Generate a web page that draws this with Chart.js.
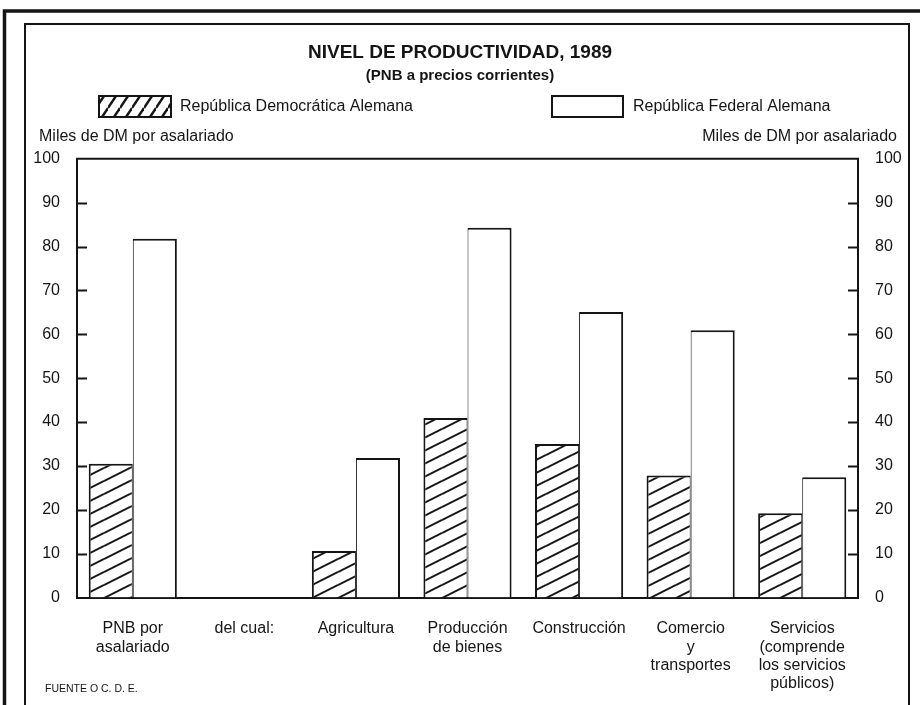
<!DOCTYPE html>
<html>
<head>
<meta charset="utf-8">
<title>Nivel de productividad, 1989</title>
<script src="https://cdn.jsdelivr.net/npm/chart.js@4.4.1/dist/chart.umd.min.js"></script>
<style>
  html, body { margin: 0; padding: 0; background: #fff; }
  canvas { display: block; }
</style>
</head>
<body>
<canvas id="productividad" width="920" height="705"></canvas>
<script>
// data (miles de DM por asalariado)
const categories = [
    ['PNB por', 'asalariado'],
    'del cual:',
    'Agricultura',
    ['Producción', 'de bienes'],
    'Construcción',
    ['Comercio', 'y', 'transportes'],
    ['Servicios', '(comprende', 'los servicios', 'públicos)']
];
const seriesNames = ['República Democrática Alemana', 'República Federal Alemana'];
const rdaValues = [30.5, null, 10.6, 40.9, 35.0, 27.8, 19.2];
const rfaValues = [81.8, null, 31.8, 84.3, 65.1, 60.9, 27.4];
const axisMin = 0;
const axisMax = 100;
const axisStep = 10;
const axisCaption = 'Miles de DM por asalariado';
const sourceNote = 'FUENTE O C. D. E.';

const INK = '#151515';
const FONT = "'Liberation Sans', Arial, Helvetica, sans-serif";

document.addEventListener('DOMContentLoaded', function () {

    // diagonal hatching ( / ) used for the RDA bars
    function makeHatch(w, h, lw) {
        const c = document.createElement('canvas');
        c.width = w;
        c.height = h;
        const g = c.getContext('2d');
        g.fillStyle = '#fff';
        g.fillRect(0, 0, w, h);
        g.strokeStyle = INK;
        g.lineWidth = lw;
        [-h, 0, h].forEach(dy => {
            g.beginPath();
            g.moveTo(0, h + dy);
            g.lineTo(w, dy);
            g.stroke();
        });
        return g.createPattern(c, 'repeat');
    }

    const barHatch = makeHatch(26, 13, 2);
    const legendHatch = makeHatch(12, 18, 2.4);

    // frames, legend, captions, inward ticks and source line
    const decorPlugin = {
        id: 'decor',
        afterDatasetsDraw(chart) {
            const ctx = chart.ctx;
            const yL = chart.scales.y;
            const yR = chart.scales.y2;
            const area = chart.chartArea;
            ctx.save();
            ctx.strokeStyle = INK;
            ctx.lineWidth = 2;
            // inward tick marks on both axes
            yL.ticks.forEach(t => {
                if (t.value === axisMin || t.value === axisMax) return;
                const py = Math.round(yL.getPixelForValue(t.value)) + 0.5;
                ctx.beginPath();
                ctx.moveTo(area.left, py);
                ctx.lineTo(area.left + 10, py);
                ctx.moveTo(area.right - 10, py);
                ctx.lineTo(area.right, py);
                ctx.stroke();
            });
            // top line of the plot box
            const top = yR.getPixelForValue(axisMax);
            ctx.beginPath();
            ctx.moveTo(area.left - 1, top);
            ctx.lineTo(area.right + 1, top);
            ctx.stroke();
            ctx.restore();
        },
        afterDraw(chart) {
            const ctx = chart.ctx;
            const ds = chart.data.datasets;
            ctx.save();

            // outer and inner frames
            ctx.strokeStyle = INK;
            ctx.lineWidth = 3.5;
            ctx.beginPath();
            ctx.moveTo(4.5, 705);
            ctx.lineTo(4.5, 11);
            ctx.lineTo(920, 11);
            ctx.stroke();
            ctx.lineWidth = 2;
            ctx.beginPath();
            ctx.moveTo(25, 705);
            ctx.lineTo(25, 24);
            ctx.lineTo(909, 24);
            ctx.lineTo(909, 705);
            ctx.stroke();

            // legend
            const boxes = [
                { x: 99, w: 72, fill: legendHatch, tx: 180 },
                { x: 552, w: 71, fill: ds[1].backgroundColor, tx: 633 }
            ];
            ctx.font = '16px ' + FONT;
            ctx.textBaseline = 'middle';
            ctx.textAlign = 'left';
            boxes.forEach((b, i) => {
                ctx.fillStyle = b.fill;
                ctx.fillRect(b.x, 96, b.w, 21);
                ctx.lineWidth = 2;
                ctx.strokeStyle = INK;
                ctx.strokeRect(b.x, 96, b.w, 21);
                ctx.fillStyle = INK;
                ctx.fillText(ds[i].label, b.tx, 107);
            });

            // axis captions
            ctx.fillText(axisCaption, 39, 137);
            ctx.textAlign = 'right';
            ctx.fillText(axisCaption, 897, 137);

            // source
            ctx.textAlign = 'left';
            ctx.font = '10.5px ' + FONT;
            ctx.fillText(sourceNote, 45, 689);
            ctx.restore();
        }
    };

    const tickFont = { family: FONT, size: 16 };

    const ctx = document.getElementById('productividad').getContext('2d');
    const productividadChart = new Chart(ctx, {
        type: 'bar',
        data: {
            labels: categories,
            datasets: [{
                label: seriesNames[0],
                data: rdaValues,
                backgroundColor: barHatch,
                borderColor: INK,
                borderWidth: { top: 2, left: 2, right: 1, bottom: 0 },
                borderSkipped: false,
                yAxisID: 'y'
            }, {
                label: seriesNames[1],
                data: rfaValues,
                backgroundColor: '#ffffff',
                borderColor: INK,
                borderWidth: { top: 2, left: 1, right: 2, bottom: 0 },
                borderSkipped: false,
                yAxisID: 'y'
            }]
        },
        options: {
            responsive: false,
            animation: false,
            events: [],
            layout: { padding: 0 },
            datasets: {
                bar: {
                    categoryPercentage: 0.79,
                    barPercentage: 1.0
                }
            },
            plugins: {
                legend: { display: false },
                tooltip: { enabled: false },
                title: {
                    display: true,
                    text: 'NIVEL DE PRODUCTIVIDAD, 1989',
                    color: INK,
                    font: { family: FONT, size: 19, weight: 'bold' },
                    padding: { top: 41, bottom: 0 }
                },
                subtitle: {
                    display: true,
                    text: '(PNB a precios corrientes)',
                    color: INK,
                    font: { family: FONT, size: 15, weight: 'bold' },
                    padding: { top: 3, bottom: 74 }
                }
            },
            scales: {
                x: {
                    type: 'category',
                    offset: true,
                    grid: { display: false },
                    border: { display: true, color: INK, width: 2 },
                    ticks: {
                        color: INK,
                        font: { family: FONT, size: 16, lineHeight: 1.15 },
                        padding: 14,
                        maxRotation: 0,
                        autoSkip: false
                    },
                    afterFit(scale) { scale.height = 107.5; }
                },
                y: {
                    position: 'left',
                    min: axisMin,
                    max: axisMax,
                    grid: { display: false },
                    border: { display: true, color: INK, width: 2 },
                    ticks: { stepSize: axisStep, color: INK, font: tickFont, padding: 9 },
                    afterFit(scale) { scale.width = 77; }
                },
                y2: {
                    position: 'right',
                    display: true,
                    min: axisMin,
                    max: axisMax,
                    grid: { display: false },
                    border: { display: true, color: INK, width: 2 },
                    ticks: { stepSize: axisStep, color: INK, font: tickFont, padding: 9 },
                    afterFit(scale) { scale.width = 62; }
                }
            }
        },
        plugins: [decorPlugin]
    });
});
</script>
</body>
</html>
